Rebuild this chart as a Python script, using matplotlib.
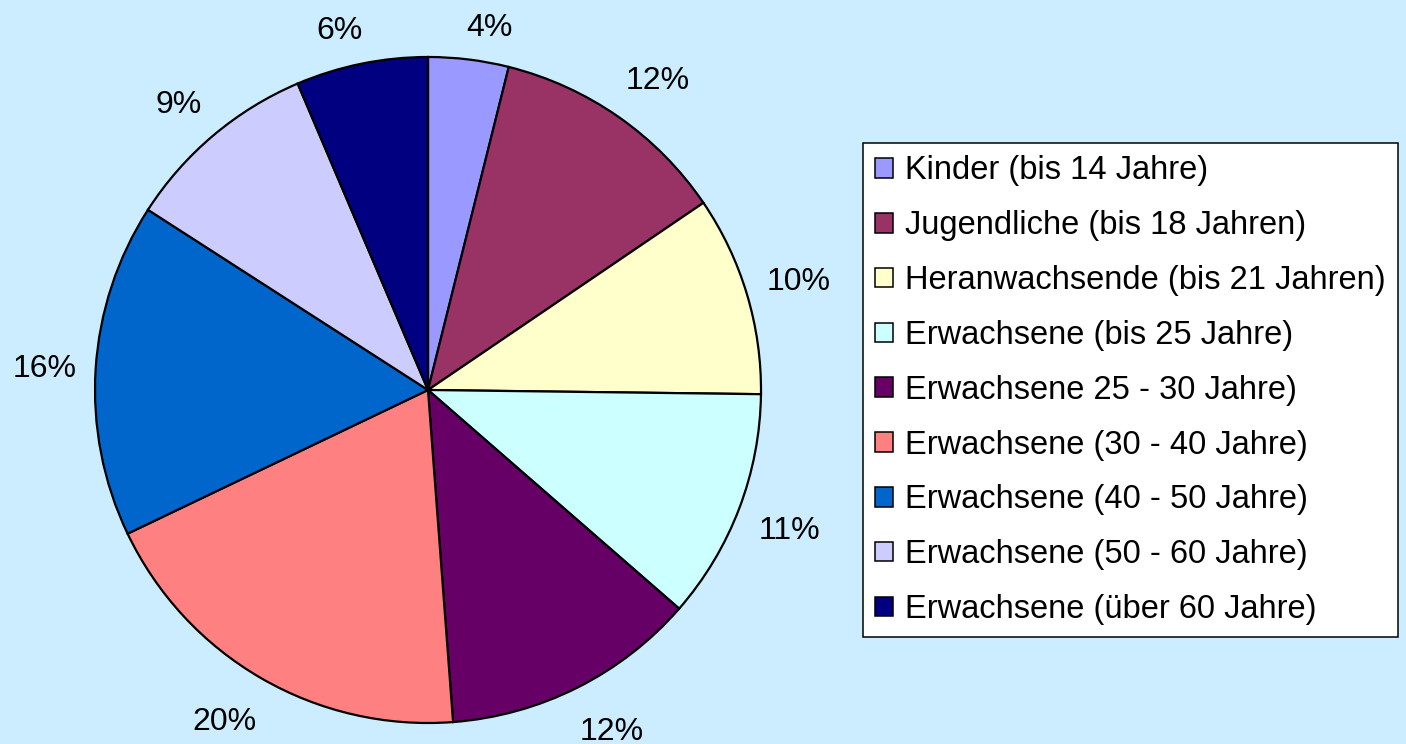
import numpy as np
import matplotlib.pyplot as plt

plt.rcParams['font.family'] = ['Liberation Sans', 'DejaVu Sans']

categories = [
    "Kinder (bis 14 Jahre)",
    "Jugendliche (bis 18 Jahren)",
    "Heranwachsende (bis 21 Jahren)",
    "Erwachsene (bis 25 Jahre)",
    "Erwachsene 25 - 30 Jahre)",
    "Erwachsene (30 - 40 Jahre)",
    "Erwachsene (40 - 50 Jahre)",
    "Erwachsene (50 - 60 Jahre)",
    "Erwachsene (über 60 Jahre)",
]
shares = [3.9, 11.6, 9.7, 11.2, 12.4, 19.1, 16.2, 9.5, 6.4]
pct_labels = ["4%", "12%", "10%", "11%", "12%", "20%", "16%", "9%", "6%"]
colors = ["#9999FF", "#993366", "#FFFFCC", "#CCFFFF", "#660066",
          "#FF8080", "#0066CC", "#CCCCFF", "#000080"]

W, H = 1406, 744
fig = plt.figure(figsize=(W / 100, H / 100), dpi=100)
fig.patch.set_facecolor("#CCECFF")

# pie centre (428, 390) px, radius 333 px
cx, cy, r = 428, 390, 333
ax = fig.add_axes([(cx - r) / W, (H - cy - r) / H, 2 * r / W, 2 * r / H])
ax.set_facecolor("none")

wedges, texts = ax.pie(
    shares, colors=colors, startangle=90, counterclock=False,
    labels=pct_labels, labeldistance=1.15,
    wedgeprops=dict(edgecolor="black", linewidth=1.6),
    textprops=dict(fontsize=23, color="black"),
)
ax.set_xlim(-1, 1)
ax.set_ylim(-1, 1)
ax.axis("off")

# Excel-like placement: label box kept a fixed gap outside the rim,
# labels near top/bottom pushed a bit sideways
fig.canvas.draw()
renderer = fig.canvas.get_renderer()
gap = 18
for w, t in zip(wedges, texts):
    ang = np.deg2rad((w.theta1 + w.theta2) / 2)
    bb = t.get_window_extent(renderer)
    hw, hh = bb.width / 2, bb.height / 2
    c, s = np.cos(ang), np.sin(ang)
    ext = hw * abs(c) + hh * abs(s)
    d = r + gap + ext
    x = d * c + 0.8 * np.sign(c) * hw * (1 - abs(c))
    y = d * s
    t.set_position((x / r, y / r))
    t.set_ha("center")
    t.set_va("center_baseline")

leg = fig.legend(
    wedges, categories, loc="upper left",
    bbox_to_anchor=(863 / W, 1 - 143 / H),
    fontsize=23.5, frameon=True, fancybox=False, edgecolor="black",
    facecolor="white", framealpha=1, borderaxespad=0,
    handlelength=0.55, handleheight=0.55, handletextpad=0.35,
    labelspacing=0.73, borderpad=0.38,
)
leg.get_frame().set_linewidth(1.1)
for h in leg.legend_handles:
    h.set_linewidth(1.1)

fig.savefig("out.png", dpi=100, facecolor=fig.get_facecolor())
